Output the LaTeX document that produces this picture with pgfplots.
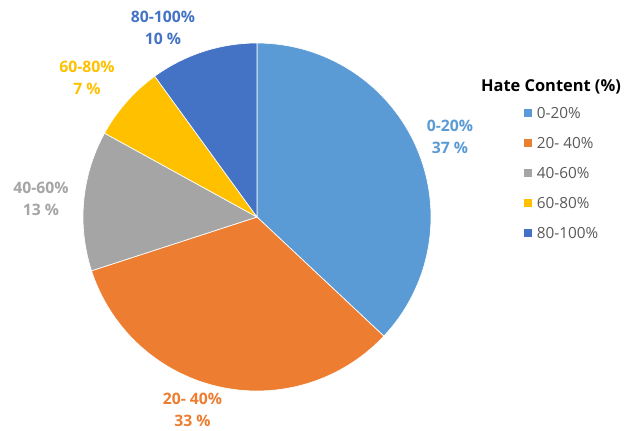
\documentclass[border=0pt]{standalone}
\usepackage{pgfplots}
\pgfplotsset{compat=1.18}
\usepackage{fontspec}
\setmainfont{Open Sans}
\definecolor{cA}{HTML}{5B9BD5}
\definecolor{cB}{HTML}{ED7D31}
\definecolor{cC}{HTML}{A5A5A5}
\definecolor{cD}{HTML}{FFC000}
\definecolor{cE}{HTML}{4472C4}
\definecolor{legtext}{HTML}{595959}
% shares (%) of the five classes
\def\vA{37}\def\vB{33}\def\vC{13}\def\vD{7}\def\vE{10}
\pgfmathsetmacro\aO{90}
\pgfmathsetmacro\aA{\aO-3.6*\vA}
\pgfmathsetmacro\aB{\aA-3.6*\vB}
\pgfmathsetmacro\aC{\aB-3.6*\vC}
\pgfmathsetmacro\aD{\aC-3.6*\vD}
\pgfmathsetmacro\aE{\aD-3.6*\vE}
\begin{document}
\begin{tikzpicture}
\begin{axis}[
  width=468pt, height=322.5pt, scale only axis,
  xmin=0, xmax=624, ymin=0, ymax=430,
  hide axis, clip=false,
  legend cell align=left,
  legend image code/.code={\path[#1,draw=none] (0pt,-3pt) rectangle (6pt,3pt);},
  legend style={draw=none, fill=none, at={(axis cs:520,325.5)}, anchor=north west,
    row sep=14.3pt, font=\fontsize{11.5}{12}\selectfont\color{legtext},
    nodes={inner sep=0pt, text height=8.2pt, text depth=0pt},
    /tikz/every odd column/.style={column sep=3.5pt}},
]
\addplot[fill=cA, draw=white, line width=0.5pt, domain=\aA:\aO, samples=80, variable=\t]
  ({257+174*cos(\t)},{213+174*sin(\t)}) -- (axis cs:257,213) -- cycle;
\addlegendentry{0-20\%}
\addplot[fill=cB, draw=white, line width=0.5pt, domain=\aB:\aA, samples=80, variable=\t]
  ({257+174*cos(\t)},{213+174*sin(\t)}) -- (axis cs:257,213) -- cycle;
\addlegendentry{20- 40\%}
\addplot[fill=cC, draw=white, line width=0.5pt, domain=\aC:\aB, samples=40, variable=\t]
  ({257+174*cos(\t)},{213+174*sin(\t)}) -- (axis cs:257,213) -- cycle;
\addlegendentry{40-60\%}
\addplot[fill=cD, draw=white, line width=0.5pt, domain=\aD:\aC, samples=30, variable=\t]
  ({257+174*cos(\t)},{213+174*sin(\t)}) -- (axis cs:257,213) -- cycle;
\addlegendentry{60-80\%}
\addplot[fill=cE, draw=white, line width=0.5pt, domain=\aE:\aD, samples=30, variable=\t]
  ({257+174*cos(\t)},{213+174*sin(\t)}) -- (axis cs:257,213) -- cycle;
\addlegendentry{80-100\%}
% data labels
\begin{scope}[every node/.style={font=\fontsize{11.8}{16.5}\selectfont\bfseries, align=center, inner sep=0pt}]
\node[text=cA] at (axis cs:450,293) {0-20\%\\37 \%};
\node[text=cB] at (axis cs:192.5,20) {20- 40\%\\33 \%};
\node[text=cC] at (axis cs:41,231) {40-60\%\\13 \%};
\node[text=cD] at (axis cs:87,352) {60-80\%\\7 \%};
\node[text=cE] at (axis cs:163,402) {80-100\%\\10 \%};
\end{scope}
\node[font=\fontsize{12.3}{14}\selectfont\bfseries, inner sep=0pt] at (axis cs:551,343) {Hate Content (\%)};
\end{axis}
\pgfresetboundingbox
\path (current axis.south west) rectangle (current axis.north east);
\end{tikzpicture}
\end{document}
